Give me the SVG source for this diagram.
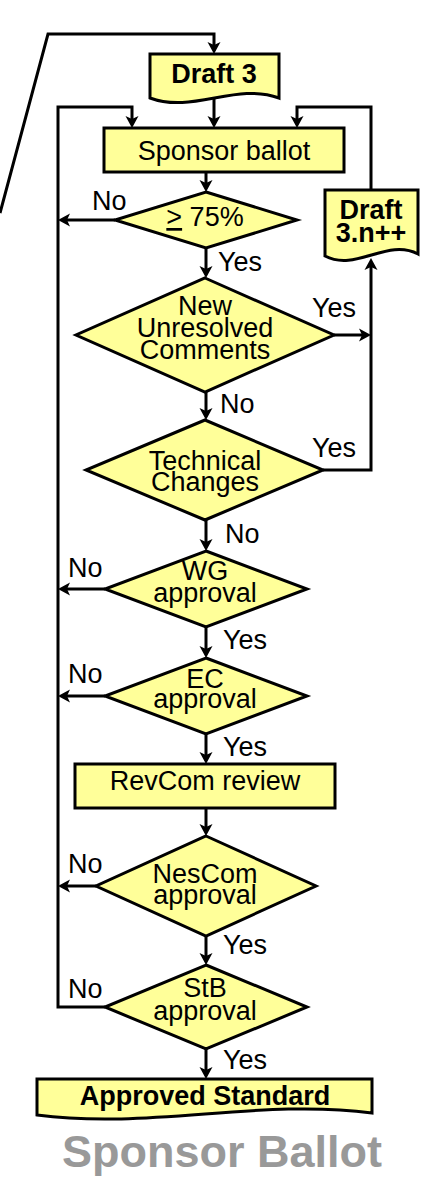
<svg xmlns="http://www.w3.org/2000/svg" width="445" height="1191" viewBox="0 0 445 1191">
  <style>
    .shape { fill: #FFFF99; stroke: #000; stroke-width: 3; stroke-linejoin: miter; }
    .wire { fill: none; stroke: #000; stroke-width: 3; stroke-linejoin: miter; }
    .arrow { marker-end: url(#head); }
    text { font-family: "Liberation Sans", Arial, sans-serif; font-size: 27px; fill: #000; }
    .c { text-anchor: middle; }
    .b { font-weight: bold; }
    .title { font-size: 45px; font-weight: bold; fill: #999999; text-anchor: middle; }
  </style>
  <defs>
    <marker id="head" markerUnits="userSpaceOnUse" viewBox="-5 -7 14 14" refX="0" refY="0" markerWidth="14" markerHeight="14" orient="auto">
      <path d="M8,0 L-4,-6.5 L-1,0 L-4,6.5 Z" fill="#000"/>
    </marker>
  </defs>

  <!-- connectors -->
  <g id="connectors">
    <polyline class="wire arrow" points="0,213 48,34 214,34 214,46"/>
    <line class="wire arrow" x1="214" y1="98" x2="214" y2="120"/>
    <polyline class="wire arrow" points="105,1007 58,1007 58,107 132,107 132,120"/>
    <polyline class="wire arrow" points="371,190 371,107 297,107 297,120"/>
    <line class="wire arrow" x1="206" y1="172" x2="206" y2="184"/>
    <line class="wire arrow" x1="115" y1="220" x2="66" y2="220"/>
    <line class="wire arrow" x1="206" y1="248" x2="206" y2="270"/>
    <line class="wire arrow" x1="334" y1="335" x2="363" y2="335"/>
    <polyline class="wire arrow" points="323,470 371,470 371,266"/>
    <line class="wire arrow" x1="206" y1="392" x2="206" y2="412"/>
    <line class="wire arrow" x1="206" y1="520" x2="206" y2="543"/>
    <line class="wire arrow" x1="105" y1="589" x2="66" y2="589"/>
    <line class="wire arrow" x1="206" y1="627" x2="206" y2="650"/>
    <line class="wire arrow" x1="105" y1="696" x2="66" y2="696"/>
    <line class="wire arrow" x1="206" y1="734" x2="206" y2="756"/>
    <line class="wire arrow" x1="206" y1="808" x2="206" y2="828"/>
    <line class="wire arrow" x1="96" y1="886" x2="66" y2="886"/>
    <line class="wire arrow" x1="206" y1="936" x2="206" y2="957"/>
    <line class="wire arrow" x1="206" y1="1049" x2="206" y2="1071"/>

    <text x="92" y="210">No</text>
    <text x="218" y="271">Yes</text>
    <text x="312" y="317">Yes</text>
    <text x="220" y="413">No</text>
    <text x="312" y="457">Yes</text>
    <text x="225" y="543">No</text>
    <text x="68" y="577">No</text>
    <text x="223" y="649">Yes</text>
    <text x="68" y="683">No</text>
    <text x="223" y="756">Yes</text>
    <text x="68" y="873">No</text>
    <text x="223" y="954">Yes</text>
    <text x="68" y="998">No</text>
    <text x="223" y="1069">Yes</text>
  </g>

  <!-- nodes -->
  <g id="draft3">
    <path class="shape" d="M150,54 H279 V98 C236,82 193,114 150,98 Z"/>
    <text class="c b" x="214" y="83">Draft 3</text>
  </g>

  <g id="sponsor-ballot">
    <rect class="shape" x="104" y="128" width="240" height="44"/>
    <text class="c" x="224" y="160">Sponsor ballot</text>
  </g>

  <g id="draft3n">
    <path class="shape" d="M325,190 H418 V254 C387,238 356,272 325,256 Z"/>
    <text class="c b" x="371" y="219"><tspan x="371">Draft</tspan><tspan x="371" dy="23">3.n++</tspan></text>
  </g>

  <g id="threshold">
    <path class="shape" d="M206,192 L297,220 L206,248 L115,220 Z"/>
    <text class="c" x="205" y="226"><tspan text-decoration="underline">&gt;</tspan> 75%</text>
  </g>

  <g id="new-comments">
    <path class="shape" d="M205,278 L334,335 L205,392 L76,335 Z"/>
    <text class="c" x="205" y="315"><tspan x="205">New</tspan><tspan x="205" dy="22">Unresolved</tspan><tspan x="205" dy="22">Comments</tspan></text>
  </g>

  <g id="technical-changes">
    <path class="shape" d="M205,420 L323,470 L205,520 L86,470 Z"/>
    <text class="c" x="205" y="470"><tspan x="205">Technical</tspan><tspan x="205" dy="21">Changes</tspan></text>
  </g>

  <g id="wg-approval">
    <path class="shape" d="M206,551 L307,589 L206,627 L105,589 Z"/>
    <text class="c" x="205" y="580"><tspan x="205">WG</tspan><tspan x="205" dy="22">approval</tspan></text>
  </g>

  <g id="ec-approval">
    <path class="shape" d="M206,658 L307,696 L206,734 L105,696 Z"/>
    <text class="c" x="205" y="688"><tspan x="205">EC</tspan><tspan x="205" dy="20">approval</tspan></text>
  </g>

  <g id="revcom-review">
    <rect class="shape" x="75" y="764" width="260" height="44"/>
    <text class="c" x="205" y="790">RevCom review</text>
  </g>

  <g id="nescom-approval">
    <path class="shape" d="M206,836 L316,886 L206,936 L96,886 Z"/>
    <text class="c" x="205" y="883"><tspan x="205">NesCom</tspan><tspan x="205" dy="21">approval</tspan></text>
  </g>

  <g id="stb-approval">
    <path class="shape" d="M206,965 L307,1007 L206,1049 L105,1007 Z"/>
    <text class="c" x="205" y="997"><tspan x="205">StB</tspan><tspan x="205" dy="23">approval</tspan></text>
  </g>

  <g id="approved-standard">
    <path class="shape" d="M37,1079 H372 V1113 C260,1098 150,1130 37,1115 Z"/>
    <text class="c b" x="205" y="1105">Approved Standard</text>
  </g>

  <text class="title" x="222" y="1167">Sponsor Ballot</text>
</svg>
